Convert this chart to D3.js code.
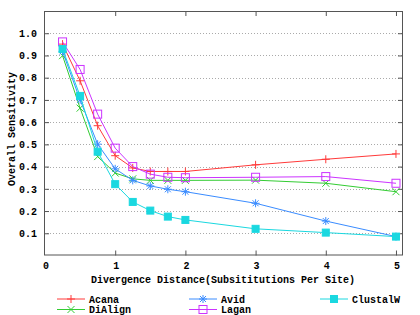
<!DOCTYPE html>
<html><head><meta charset="utf-8">
<script src="https://cdn.jsdelivr.net/npm/d3@7"></script>
<style>html,body{margin:0;padding:0;background:#fff;}svg{display:block;}</style>
</head><body>
<script>
const distances = [0.25, 0.5, 0.75, 1.0, 1.25, 1.5, 1.75, 2, 3, 4, 5];
const acana    = [0.951, 0.786, 0.584, 0.449, 0.394, 0.378, 0.378, 0.378, 0.408, 0.433, 0.457];
const diAlign  = [0.899, 0.663, 0.445, 0.371, 0.345, 0.338, 0.338, 0.338, 0.339, 0.325, 0.287];
const avid     = [0.918, 0.700, 0.501, 0.390, 0.338, 0.313, 0.298, 0.287, 0.235, 0.155, 0.085];
const lagan    = [0.961, 0.837, 0.636, 0.483, 0.400, 0.366, 0.352, 0.350, 0.352, 0.355, 0.325];
const clustalW = [0.929, 0.718, 0.467, 0.321, 0.241, 0.202, 0.175, 0.160, 0.120, 0.103, 0.085];
const xTicks = [0, 1, 2, 3, 4, 5];
const yTicks = [0.1, 0.2, 0.3, 0.4, 0.5, 0.6, 0.7, 0.8, 0.9, 1.0];
const seriesNames = ["Acana", "DiAlign", "Avid", "Lagan", "ClustalW"];

const series = [
  {name: "Acana", values: acana, color: "#ff3a3a", marker: "plus"},
  {name: "DiAlign", values: diAlign, color: "#33cc33", marker: "cross"},
  {name: "Avid", values: avid, color: "#3a8cff", marker: "star"},
  {name: "Lagan", values: lagan, color: "#cc33ff", marker: "square"},
  {name: "ClustalW", values: clustalW, color: "#1ad8e0", marker: "fsquare"}
];

const W = 420, H = 315;
const L = 44, R = 403, T = 11, B = 255.5;
const font = "'Liberation Mono', 'DejaVu Sans Mono', monospace";
const svg = d3.select("body").append("svg").attr("width", W).attr("height", H);

const x = d3.scaleLinear().domain([0, 5.1]).range([45, R]);
const y = d3.scaleLinear().domain([0, 1.1]).range([B, T]);

// grid
svg.append("g").selectAll("line").data(yTicks).join("line")
  .attr("x1", L).attr("x2", R)
  .attr("y1", d => Math.round(y(d)) + 0.5).attr("y2", d => Math.round(y(d)) + 0.5)
  .attr("stroke", "#aaa").attr("stroke-width", 1).attr("stroke-dasharray", "1,2");

// axes with inward ticks
const axL = d3.axisLeft(y).tickValues(yTicks).tickSize(-5).tickFormat(d3.format(".1f"));
const axR = d3.axisRight(y).tickValues(yTicks).tickSize(-5).tickFormat("");
const axB = d3.axisBottom(x).tickValues(xTicks.filter(d => d > 0)).tickSize(-5).tickFormat("");
const axT = d3.axisTop(x).tickValues(xTicks.filter(d => d > 0)).tickSize(-5).tickFormat("");
function styleAxis(g) {
  g.select(".domain").remove();
  g.selectAll(".tick line").attr("stroke", "#555");
  g.selectAll("text").attr("font-family", font).attr("font-size", 10).attr("fill", "#000");
}
svg.append("g").attr("transform", `translate(${L},0)`).call(axL).call(styleAxis)
  .selectAll("text").attr("x", -7).attr("font-weight", "bold");
svg.append("g").attr("transform", `translate(${R},0)`).call(axR).call(styleAxis);
svg.append("g").attr("transform", `translate(0,${B})`).call(axB).call(styleAxis);
svg.append("g").attr("transform", `translate(0,${T})`).call(axT).call(styleAxis);

// x tick labels (including 0)
svg.append("g").selectAll("text").data(xTicks).join("text")
  .attr("x", d => x(d) + 1).attr("y", 269)
  .attr("text-anchor", "middle").attr("font-family", font).attr("font-size", 10)
  .attr("font-weight", "bold").text(d => d);

// frame
svg.append("rect").attr("x", L + 0.5).attr("y", T + 0.5)
  .attr("width", R - L - 1).attr("height", B - T - 1)
  .attr("fill", "none").attr("stroke", "#555").attr("stroke-width", 1);

// titles
svg.append("text").attr("x", 223).attr("y", 283).attr("text-anchor", "middle")
  .attr("font-family", font).attr("font-size", 10).attr("font-weight", "bold")
  .text("Divergence Distance(Subsititutions Per Site)");
svg.append("text").attr("transform", "translate(15,129) rotate(-90)")
  .attr("text-anchor", "middle").attr("font-family", font).attr("font-size", 10)
  .attr("font-weight", "bold").text("Overall Sensitivity");

function drawMarker(g, type, cx, cy, color) {
  const s = 4;
  if (type === "plus" || type === "star") {
    g.append("line").attr("x1", cx - s).attr("x2", cx + s).attr("y1", cy).attr("y2", cy).attr("stroke", color);
    g.append("line").attr("x1", cx).attr("x2", cx).attr("y1", cy - s).attr("y2", cy + s).attr("stroke", color);
  }
  if (type === "cross" || type === "star") {
    const c = type === "star" ? 3 : 3.5;
    g.append("line").attr("x1", cx - c).attr("x2", cx + c).attr("y1", cy - c).attr("y2", cy + c).attr("stroke", color);
    g.append("line").attr("x1", cx - c).attr("x2", cx + c).attr("y1", cy + c).attr("y2", cy - c).attr("stroke", color);
  }
  if (type === "square") {
    g.append("rect").attr("x", cx - 4).attr("y", cy - 4).attr("width", 8).attr("height", 8)
      .attr("fill", "none").attr("stroke", color);
  }
  if (type === "fsquare") {
    g.append("rect").attr("x", cx - 3.5).attr("y", cy - 3.5).attr("width", 7).attr("height", 7)
      .attr("fill", color).attr("stroke", color);
  }
}

const line = d3.line().x((d, i) => x(distances[i])).y(d => y(d));
series.forEach(s => {
  const g = svg.append("g");
  g.append("path").datum(s.values).attr("d", line)
    .attr("fill", "none").attr("stroke", s.color).attr("stroke-width", 1);
  s.values.forEach((v, i) => drawMarker(g, s.marker, x(distances[i]), y(v), s.color));
});

// legend
const legendPos = [
  {x: 57, y: 299}, {x: 57, y: 309.5},
  {x: 189, y: 299}, {x: 189, y: 309.5},
  {x: 320, y: 299}
];
series.forEach((s, i) => {
  const p = legendPos[i];
  const g = svg.append("g");
  g.append("line").attr("x1", p.x).attr("x2", p.x + 28).attr("y1", p.y).attr("y2", p.y)
    .attr("stroke", s.color);
  drawMarker(g, s.marker, p.x + 14, p.y, s.color);
  g.append("text").attr("x", p.x + 32).attr("y", p.y + 3.5)
    .attr("font-family", font).attr("font-size", 10).attr("font-weight", "bold")
    .text(seriesNames[i]);
});
</script>
</body></html>
